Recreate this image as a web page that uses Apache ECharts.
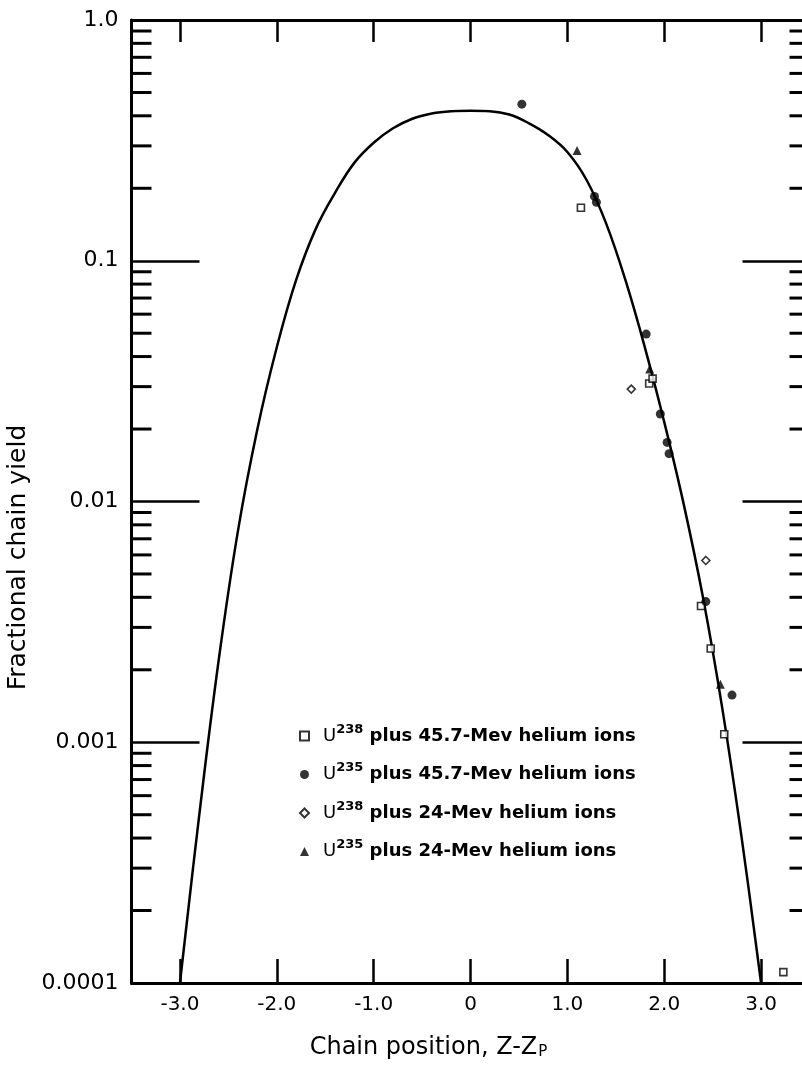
<!DOCTYPE html>
<html><head><meta charset="utf-8">
<script src="https://cdn.jsdelivr.net/npm/echarts@6/dist/echarts.min.js"></script>
<style>html,body{margin:0;padding:0;background:#fff}#c{width:802px;height:1067px}</style>
</head><body><div id="c"></div>
<script>
// ---- axis ticks ----
const xTickValues = [-3, -2, -1, 0, 1, 2, 3];
const xTickLabels = ['-3.0', '-2.0', '-1.0', '0', '1.0', '2.0', '3.0'];
const yTickValues = [0.0001, 0.001, 0.01, 0.1, 1];
const yTickLabels = ['0.0001', '0.001', '0.01', '0.1', '1.0'];
const yMinorMultipliers = [2, 3, 4, 5, 6, 7, 8, 9];
const yDecades = [0.0001, 0.001, 0.01, 0.1];
const X_MIN = -3.5, X_MAX = 3.5;

// ---- fitted curve ----
const curveX = [-3.0, -2.8, -2.6, -2.4, -2.2, -2.0, -1.8, -1.6, -1.4, -1.2, -1.0, -0.8, -0.6, -0.4, -0.2, 0.0, 0.2, 0.4, 0.6, 0.8, 1.0, 1.2, 1.4, 1.6, 1.8, 2.0, 2.2, 2.4, 2.6, 2.8, 3.0];
const curveY = [0.0001, 0.0005, 0.00219, 0.00759, 0.0200, 0.0437, 0.0832, 0.135, 0.191, 0.255, 0.309, 0.355, 0.389, 0.409, 0.418, 0.42, 0.418, 0.405, 0.373, 0.333, 0.283, 0.216, 0.143, 0.083, 0.0437, 0.0214, 0.0098, 0.0040, 0.00138, 0.0004, 0.0001];

// ---- data series ----
const u238_457_x = [1.14, 1.845, 1.88, 2.38, 2.48, 2.62, 3.23];
const u238_457_y = [0.166, 0.0309, 0.0324, 0.00368, 0.00245, 0.00108, 0.000111];
const u235_457_x = [0.53, 1.28, 1.30, 1.814, 1.96, 2.03, 2.05, 2.43, 2.70];
const u235_457_y = [0.447, 0.185, 0.175, 0.0496, 0.0231, 0.0176, 0.0158, 0.00384, 0.00157];
const u238_24_x = [1.66, 2.43];
const u238_24_y = [0.0293, 0.00569];
const u235_24_x = [1.10, 1.85, 2.58];
const u235_24_y = [0.287, 0.0355, 0.00174];

const legendIso = ['238', '235', '238', '235'];
const legendRest = [' plus 45.7-Mev helium ions', ' plus 45.7-Mev helium ions', ' plus 24-Mev helium ions', ' plus 24-Mev helium ions'];
const seriesNames = legendIso.map((iso, i) => 'U' + iso + legendRest[i]);

const FONT = 'DejaVu Sans';
const pairs = (xs, ys) => xs.map((x, i) => [x, ys[i]]);
const minorVals = [];
yDecades.forEach(d => yMinorMultipliers.forEach(m => minorVals.push([X_MIN, m * d])));

const xFmt = v => { const i = xTickValues.findIndex(t => Math.abs(t - v) < 1e-9); return i < 0 ? '' : xTickLabels[i]; };
const yFmt = v => { const i = yTickValues.findIndex(t => Math.abs(Math.log10(t) - Math.log10(v)) < 1e-6); return i < 0 ? '' : yTickLabels[i]; };

const axisLineStyle = { color: '#000', width: 3 };
const chart = echarts.init(document.getElementById('c'), null, { renderer: 'canvas' });
chart.setOption({
  animation: false,
  backgroundColor: '#fff',
  grid: { left: 131.5, top: 20, width: 678, height: 963, containLabel: false, outerBoundsMode: 'none' },
  xAxis: [{
    type: 'value', min: X_MIN, max: X_MAX, splitNumber: 7, position: 'bottom',
    axisLine: { show: true, onZero: false, lineStyle: axisLineStyle },
    axisTick: { show: true, inside: true, length: 24, lineStyle: { color: '#000', width: 2.5 } },
    axisLabel: { formatter: xFmt, margin: 12, fontSize: 20, color: '#000', fontFamily: FONT },
    splitLine: { show: false },
    name: 'Chain position, Z-Z{sub|P}', nameLocation: 'middle', nameGap: 53,
    nameTextStyle: { fontSize: 24, color: '#000', fontFamily: FONT, padding: [0, 84, 0, 0],
      rich: { sub: { fontSize: 15, color: '#000', fontFamily: FONT, verticalAlign: 'bottom', padding: [8, 0, 0, 1] } } }
  }, {
    type: 'value', min: X_MIN, max: X_MAX, splitNumber: 7, position: 'top',
    axisLine: { show: true, onZero: false, lineStyle: axisLineStyle },
    axisTick: { show: true, inside: true, length: 22, lineStyle: { color: '#000', width: 2.5 } },
    axisLabel: { show: false }, splitLine: { show: false }
  }],
  yAxis: [{
    type: 'log', logBase: 10, min: 0.0001, max: 1, position: 'left',
    axisLine: { show: true, onZero: false, lineStyle: axisLineStyle },
    axisTick: { show: true, inside: true, length: 68, lineStyle: { color: '#000', width: 2.5 } },
    axisLabel: { formatter: yFmt, margin: 13, fontSize: 22, color: '#000', fontFamily: FONT },
    splitLine: { show: false },
    name: 'Fractional chain yield', nameLocation: 'middle', nameGap: 93,
    nameTextStyle: { fontSize: 25, color: '#000', fontFamily: FONT, padding: [0, 112, 0, 0] }
  }, {
    type: 'log', logBase: 10, min: 0.0001, max: 1, position: 'right',
    axisLine: { show: true, onZero: false, lineStyle: axisLineStyle },
    axisTick: { show: true, inside: true, length: 67, lineStyle: { color: '#000', width: 2.5 } },
    axisLabel: { show: false }, splitLine: { show: false }
  }],
  legend: {
    data: seriesNames, orient: 'vertical', left: 294, top: 718,
    itemWidth: 9, itemHeight: 9, itemGap: 16.5, selectedMode: false,
    formatter: name => { const i = seriesNames.indexOf(name); return '{u|U}{s|' + legendIso[i] + '}{t|' + legendRest[i] + '}'; },
    textStyle: {
      color: '#000', fontFamily: FONT,
      rich: {
        u: { fontSize: 18, fontFamily: FONT, color: '#000', lineHeight: 26, padding: [0, 0, 0, 9] },
        s: { fontSize: 13, fontFamily: FONT, color: '#000', fontWeight: 'bold', lineHeight: 12, verticalAlign: 'top' },
        t: { fontSize: 18, fontFamily: FONT, color: '#000', fontWeight: 'bold', lineHeight: 26 }
      }
    }
  },
  series: [
    { type: 'line', name: 'curve', data: pairs(curveX, curveY), smooth: 0.4, showSymbol: false, silent: true,
      lineStyle: { color: '#000', width: 2.5 }, z: 2 },
    { type: 'custom', name: 'minorTicks', data: minorVals, silent: true, z: 3, clip: false,
      renderItem: (params, api) => {
        const v = api.value(1);
        const pL = api.coord([X_MIN, v]);
        const pR = api.coord([X_MAX, v]);
        return { type: 'group', children: [
          { type: 'line', shape: { x1: pL[0], y1: pL[1], x2: pL[0] + 20, y2: pL[1] }, style: { stroke: '#000', lineWidth: 3 } },
          { type: 'line', shape: { x1: pR[0] - 20, y1: pR[1], x2: pR[0], y2: pR[1] }, style: { stroke: '#000', lineWidth: 3 } }
        ] };
      } },
    { type: 'scatter', name: seriesNames[0], data: pairs(u238_457_x, u238_457_y), symbol: 'rect', symbolSize: 7,
      itemStyle: { color: '#fff', borderColor: '#000', borderWidth: 1.6 }, z: 5 },
    { type: 'scatter', name: seriesNames[1], data: pairs(u235_457_x, u235_457_y), symbol: 'circle', symbolSize: 9,
      itemStyle: { color: '#000' }, z: 5 },
    { type: 'scatter', name: seriesNames[2], data: pairs(u238_24_x, u238_24_y), symbol: 'diamond', symbolSize: 8,
      itemStyle: { color: '#fff', borderColor: '#000', borderWidth: 1.6 }, z: 5 },
    { type: 'scatter', name: seriesNames[3], data: pairs(u235_24_x, u235_24_y), symbol: 'triangle', symbolSize: 9,
      itemStyle: { color: '#000' }, z: 5 }
  ]
});
</script></body></html>
